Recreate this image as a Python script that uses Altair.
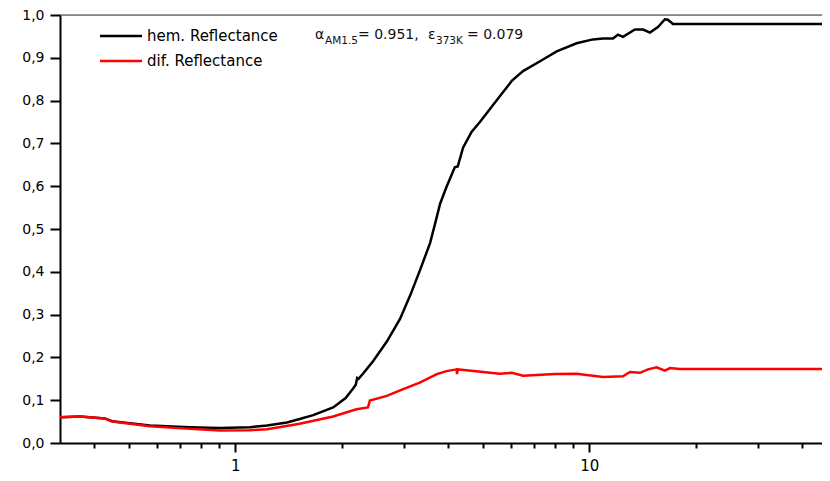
import altair as alt
import pandas as pd

# ---- data ----
hem_x = [0.32, 0.364, 0.428, 0.449, 0.574, 0.745, 0.905, 1.10, 1.23, 1.40, 1.52, 1.66, 1.89, 2.05,
         2.15, 2.19, 2.21, 2.23, 2.30, 2.45, 2.68, 2.92, 3.12, 3.33, 3.55, 3.67, 3.79, 3.95, 4.17, 4.25,
         4.40, 4.65, 4.91, 5.47, 6.04, 6.50, 7.26, 8.09, 9.21, 10.24, 10.93, 11.67, 12.05, 12.45,
         13.46, 14.19, 14.84, 15.63, 16.36, 16.68, 17.23, 48.0]
hem_y = [0.060, 0.062, 0.0575, 0.051, 0.041, 0.037, 0.035, 0.037, 0.041, 0.048, 0.056, 0.065, 0.083, 0.105,
         0.127, 0.136, 0.152, 0.150, 0.163, 0.191, 0.237, 0.290, 0.345, 0.405, 0.467, 0.513, 0.559, 0.598, 0.644, 0.646,
         0.690, 0.727, 0.750, 0.800, 0.846, 0.869, 0.892, 0.915, 0.934, 0.943, 0.945, 0.945, 0.954, 0.949,
         0.966, 0.966, 0.959, 0.972, 0.990, 0.989, 0.979, 0.979]

dif_x = [0.32, 0.364, 0.428, 0.449, 0.574, 0.745, 0.905, 1.10, 1.23, 1.52, 1.89, 2.20, 2.37, 2.40, 2.68,
         2.98, 3.32, 3.71, 3.95, 4.22, 4.23, 4.25, 4.50, 5.01, 5.59, 6.04, 6.50, 7.10, 8.00, 9.21,
         9.83, 10.93, 12.45, 13.03, 13.91, 14.65, 15.49, 16.36, 16.90, 18.03, 48.0]
dif_y = [0.060, 0.062, 0.057, 0.050, 0.039, 0.033, 0.029, 0.030, 0.032, 0.045, 0.062, 0.079, 0.083, 0.099, 0.110,
         0.126, 0.141, 0.161, 0.168, 0.172, 0.161, 0.172, 0.170, 0.166, 0.162, 0.164, 0.157, 0.159, 0.161, 0.162,
         0.159, 0.154, 0.156, 0.166, 0.164, 0.172, 0.177, 0.169, 0.175, 0.173, 0.173]

series_names = ["hem. Reflectance", "dif. Reflectance"]
series_colors = ["#000000", "#ff0000"]

x_ticks = [0.4, 0.5, 0.6, 0.7, 0.8, 0.9, 1, 2, 3, 4, 5, 6, 7, 8, 9, 10, 20, 30, 40]
y_ticks = [i / 20 for i in range(21)]
x_domain = [0.3198, 45.44]
y_domain = [0.0, 1.0]

hem = pd.DataFrame({"x": hem_x, "y": hem_y})
dif = pd.DataFrame({"x": dif_x, "y": dif_y})

W, H = 762, 428
tick_font = "DejaVu Sans"
txt_font = "DejaVu Sans"

x_enc = alt.X(
    "x:Q",
    scale=alt.Scale(type="log", domain=x_domain, nice=False),
    axis=alt.Axis(
        values=x_ticks, title=None, grid=False,
        labelExpr="(datum.value == 1 || datum.value == 10) ? format(datum.value, 'd') : ''",
        tickSize={"condition": {"test": "datum.value == 1 || datum.value == 10", "value": 9}, "value": 5},
        labelOverlap=False, labelFlush=False, labelPadding=6,
        labelFont=tick_font, labelFontSize=15, labelColor="#000000",
        domainColor="#000000", domainWidth=2, tickColor="#000000", tickWidth=2,
    ),
)
y_enc = alt.Y(
    "y:Q",
    scale=alt.Scale(domain=y_domain, nice=False, zero=True),
    axis=alt.Axis(
        values=y_ticks, title=None, grid=False,
        labelExpr="round(datum.value*20) % 2 == 0 ? replace(format(datum.value, '.1f'), '.', ',') : ''",
        tickSize={"condition": {"test": "round(datum.value*20) % 2 == 0", "value": 10}, "value": 6},
        labelOverlap=False, labelFlush=False, labelPadding=6,
        labelFont=tick_font, labelFontSize=14, labelColor="#000000",
        domainColor="#000000", domainWidth=2, tickColor="#000000", tickWidth=2,
    ),
)

line_hem = alt.Chart(hem).mark_line(color=series_colors[0], strokeWidth=2.5, clip=True).encode(x=x_enc, y=y_enc, order="x:Q")
line_dif = alt.Chart(dif).mark_line(color=series_colors[1], strokeWidth=2.5, clip=True).encode(x="x:Q", y="y:Q", order="x:Q")

top_line = alt.Chart(pd.DataFrame({"y": [1.0]})).mark_rule(color="#333333", strokeWidth=1).encode(
    y="y:Q", x=alt.value(0), x2=alt.value(W)
)

# manual legend
leg_df = pd.DataFrame({"name": series_names, "color": series_colors, "ypix": [21, 46]})
leg_lines = alt.Chart(leg_df).mark_rule(strokeWidth=2.5).encode(
    x=alt.value(40), x2=alt.value(82), y=alt.Y("ypix:Q", scale=None),
    color=alt.Color("color:N", scale=None),
)
leg_text = alt.Chart(leg_df).mark_text(align="left", baseline="middle", font=txt_font, fontSize=15, color="#000000").encode(
    x=alt.value(87), y=alt.Y("ypix:Q", scale=None), text="name:N"
)

# annotation pieces
ann_df = pd.DataFrame({
    "t": ["α", "AM1.5", "= 0.951,", "ε", "373K", "= 0.079"],
    "xp": [255, 265, 298, 368, 376, 407],
    "yp": [20, 26, 20, 20, 26, 20],
    "fs": [14, 10, 14, 14, 10, 14],
})
ann_big = alt.Chart(ann_df[ann_df.fs == 14]).mark_text(align="left", baseline="middle", font=txt_font, fontSize=14, color="#111111").encode(
    x=alt.X("xp:Q", scale=None), y=alt.Y("yp:Q", scale=None), text="t:N"
)
ann_small = alt.Chart(ann_df[ann_df.fs < 14]).mark_text(align="left", baseline="middle", font=txt_font, fontSize=10.5, color="#111111").encode(
    x=alt.X("xp:Q", scale=None), y=alt.Y("yp:Q", scale=None), text="t:N"
)

chart = alt.layer(line_hem, line_dif, top_line, leg_lines, leg_text, ann_big, ann_small).properties(
    width=W, height=H,
    autosize=alt.AutoSizeParams(type="none"),
    padding={"left": 52, "top": 7, "right": 0, "bottom": 30},
).configure_view(stroke=None).configure(background="#ffffff")

chart.save("out.html", embed_options={"renderer": "svg", "actions": False})
